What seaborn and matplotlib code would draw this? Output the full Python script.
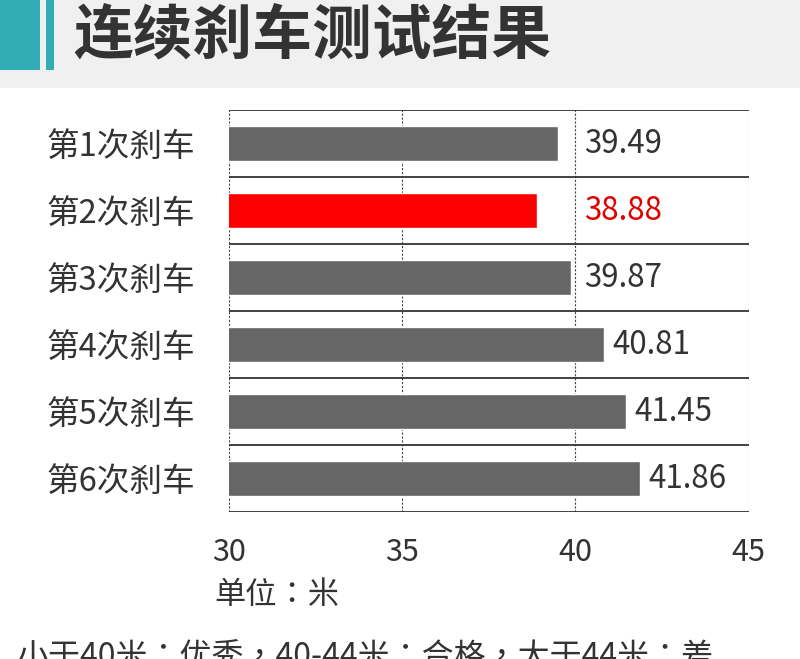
import matplotlib
matplotlib.use("Agg")
import matplotlib.pyplot as plt
import seaborn as sns
from matplotlib.patches import Rectangle

# data
brakes = ["第1次刹车", "第2次刹车", "第3次刹车", "第4次刹车", "第5次刹车", "第6次刹车"]
distance = [39.49, 38.88, 39.87, 40.81, 41.45, 41.86]
bar_colors = ["#666666", "#ff0000", "#666666", "#666666", "#666666", "#666666"]
label_colors = ["#333333", "#e00000", "#333333", "#333333", "#333333", "#333333"]
x_ticks = [30, 35, 40, 45]
title = "连续刹车测试结果"
unit_text = "单位：米"
note_text = "小于40米：优秀，40-44米：合格，大于44米：差"

sns.set_style("white")
plt.rcParams['font.family'] = ['Noto Sans CJK SC', 'DejaVu Sans']

fig = plt.figure(figsize=(8, 6.59), dpi=100)

# header band
fig.patches.append(Rectangle((0, 0.866), 1, 0.134, transform=fig.transFigure,
                             facecolor="#f0f0f0", edgecolor="none", zorder=0))
fig.patches.append(Rectangle((0, 0.894), 0.05, 0.106, transform=fig.transFigure,
                             facecolor="#33adb5", edgecolor="none", zorder=1))
fig.patches.append(Rectangle((0.0575, 0.894), 0.01, 0.106, transform=fig.transFigure,
                             facecolor="#33adb5", edgecolor="none", zorder=1))
fig.text(0.092, 0.944, title, fontsize=43, fontweight="heavy", color="#333333",
         va="center", ha="left")

ax = fig.add_axes([0.286, 0.223, 0.65, 0.610])
sns.barplot(x=distance, y=brakes, hue=brakes, palette=bar_colors, orient="h",
            width=0.52, legend=False, ax=ax, zorder=3, saturation=1)

ax.set_xlim(30, 45)
ax.set_ylim(5.5, -0.5)
ax.set_xticks(x_ticks)
ax.set_xticklabels([str(t) for t in x_ticks])
ax.tick_params(axis="x", labelsize=22, colors="#333333", pad=18, length=0)
ax.tick_params(axis="y", labelsize=23.5, colors="#333333", pad=24, length=0)
ax.set_xlabel("")
ax.set_ylabel("")

# grid
for t in x_ticks:
    ax.axvline(t, color="#444444", lw=0.8, ls=(0, (2, 1.5)), zorder=1)
for i in range(len(brakes) + 1):
    ax.axhline(i - 0.5, color="#333333", lw=1.3, zorder=2)
for s in ax.spines.values():
    s.set_visible(False)

# value labels
for i, v in enumerate(distance):
    ax.text(max(v, 40) + 0.25, i, f"{v:.2f}", fontsize=22.5, color=label_colors[i],
            va="center", ha="left", zorder=4)

fig.text(0.268, 0.097, unit_text, fontsize=22.5, color="#333333", va="center", ha="left",
         family=['Noto Sans CJK TC', 'DejaVu Sans'])
fig.text(0.02, 0.028, note_text, fontsize=23, color="#333333", va="top", ha="left",
         family=['Noto Sans CJK TC', 'DejaVu Sans'])

fig.savefig("out.png", dpi=100)
